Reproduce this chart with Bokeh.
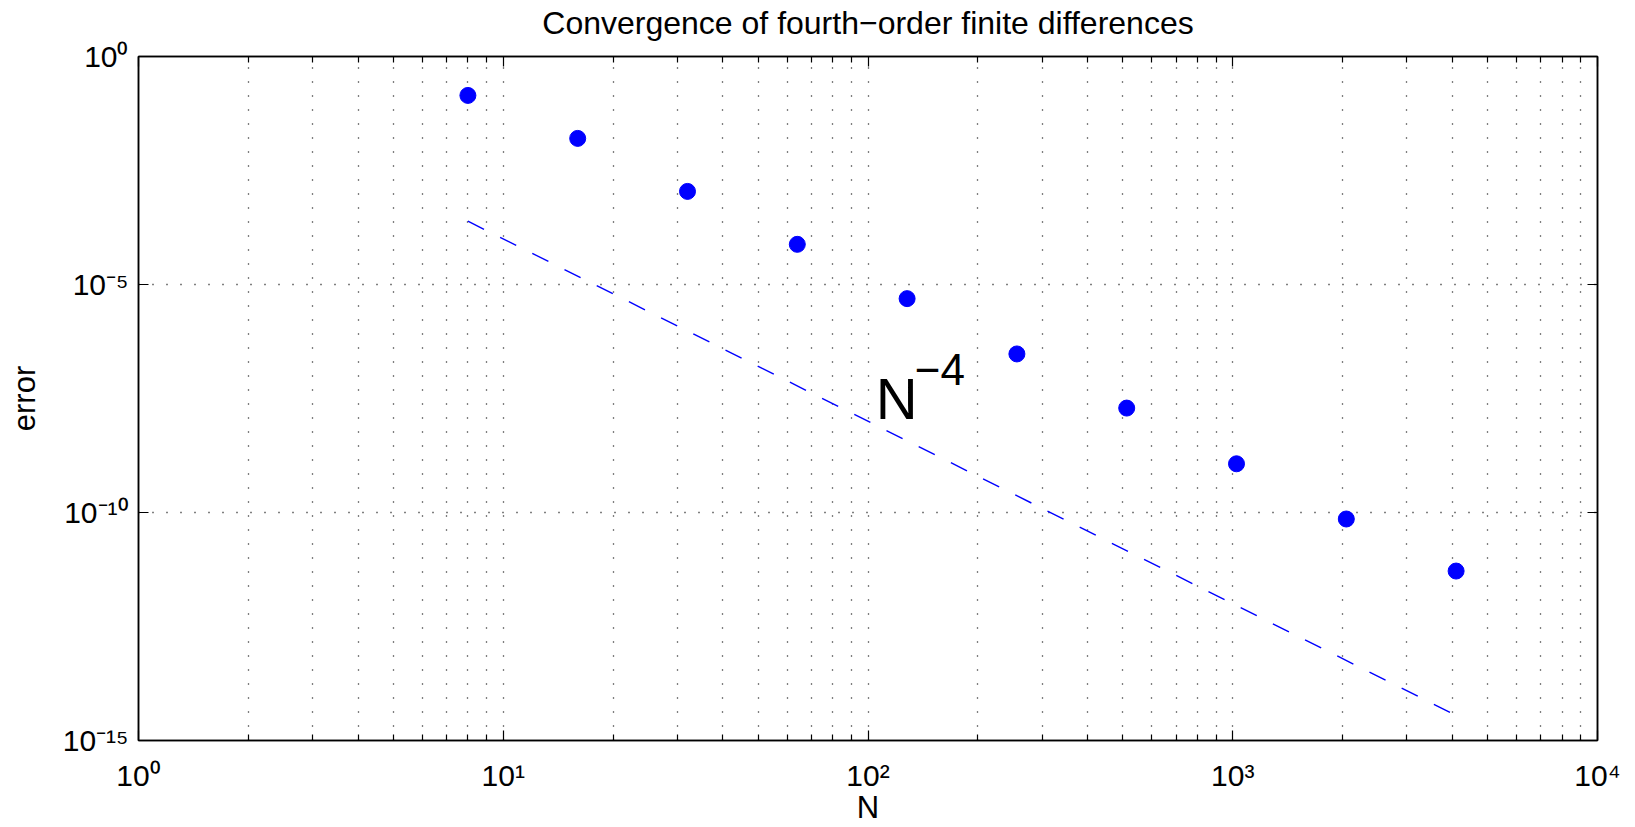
from bokeh.plotting import figure
from bokeh.models import FixedTicker, LogAxis, Label, CustomJSTickFormatter
from bokeh.embed import file_html
from bokeh.resources import INLINE

# ---- data ----
N = [8, 16, 32, 64, 128, 256, 512, 1024, 2048, 4096]
err = [1.4e-1, 1.6e-2, 1.1e-3, 7.6e-5, 4.9e-6, 3.0e-7, 1.95e-8, 1.17e-9, 7.2e-11, 5.2e-12]
ref_N = [8, 4096]
ref_err = [n ** -4.0 for n in ref_N]  # N^-4 reference line
x_major = [1, 10, 100, 1000, 10000]
x_labels = ["10\u2070", "10\u00b9", "10\u00b2", "10\u00b3", "10\u2074"]
x_minor = [m * d for d in [1, 10, 100, 1000] for m in range(2, 10)]
y_major = [1e-15, 1e-10, 1e-5, 1]
y_labels = ["10\u207b\u00b9\u2075", "10\u207b\u00b9\u2070", "10\u207b\u2075", "10\u2070"]
title_text = "Convergence of fourth\u2212order finite differences"

FONT = "Liberation Sans"
BLUE = "#0000ff"

p = figure(width=1635, height=827, x_axis_type="log", y_axis_type="log",
           x_range=(1, 1e4), y_range=(1e-15, 1),
           output_backend="svg", toolbar_location=None,
           min_border_left=138, min_border_right=38,
           min_border_top=56, min_border_bottom=87)
p.background_fill_color = "white"
p.border_fill_color = "white"
p.outline_line_color = "black"
p.outline_line_width = 1.5

label_code = """
let best = 0, bd = Infinity;
for (let i = 0; i < tv.length; i++) {
  const d = Math.abs(Math.log10(tv[i]) - Math.log10(tick));
  if (d < bd) { bd = d; best = i; }
}
return tl[best];
"""
x_fmt = CustomJSTickFormatter(args=dict(tv=x_major, tl=x_labels), code=label_code)
y_fmt = CustomJSTickFormatter(args=dict(tv=y_major, tl=y_labels), code=label_code)
blank = CustomJSTickFormatter(code="return ''")

def style_axis(ax):
    ax.major_tick_in = 10
    ax.major_tick_out = 0
    ax.minor_tick_in = 6
    ax.minor_tick_out = 0
    ax.axis_line_color = "black"
    ax.axis_line_width = 1.5
    ax.major_tick_line_color = "black"
    ax.minor_tick_line_color = "black"
    ax.major_tick_line_width = 1.2
    ax.minor_tick_line_width = 1.2
    ax.major_label_text_font = FONT
    ax.major_label_text_font_size = "30px"
    ax.major_label_text_color = "black"
    ax.axis_label_text_font = FONT
    ax.axis_label_text_font_size = "31px"
    ax.axis_label_text_font_style = "normal"
    ax.axis_label_text_color = "black"

p.xaxis.ticker = FixedTicker(ticks=x_major, minor_ticks=x_minor)
p.yaxis.ticker = FixedTicker(ticks=y_major, minor_ticks=[])
style_axis(p.xaxis[0])
style_axis(p.yaxis[0])
p.xaxis[0].formatter = x_fmt
p.yaxis[0].formatter = y_fmt
p.yaxis[0].minor_tick_in = 0
p.xaxis[0].major_label_standoff = 18
p.yaxis[0].major_label_standoff = 10
p.xaxis[0].axis_label = "N"
p.xaxis[0].axis_label_standoff = -5
p.yaxis[0].axis_label = "error"
p.yaxis[0].axis_label_standoff = 18

top = LogAxis(ticker=FixedTicker(ticks=x_major, minor_ticks=x_minor))
right = LogAxis(ticker=FixedTicker(ticks=y_major, minor_ticks=[]))
for ax in (top, right):
    style_axis(ax)
    ax.formatter = blank
    ax.major_label_text_font_size = "1px"
    ax.major_label_standoff = 0
right.minor_tick_in = 0
# title drawn as the top axis label
top.axis_label = title_text
top.axis_label_text_font_size = "32px"
top.axis_label_standoff = 16
p.add_layout(top, "above")
p.add_layout(right, "right")

# grid: dotted
for g in (p.xgrid[0], p.ygrid[0]):
    g.grid_line_color = "black"
    g.grid_line_dash = "1 13"
    g.grid_line_width = 1.3
    g.grid_line_alpha = 1.0
p.xgrid[0].minor_grid_line_color = "black"
p.xgrid[0].minor_grid_line_dash = "1 13"
p.xgrid[0].minor_grid_line_width = 1.3
p.xgrid[0].minor_grid_line_alpha = 1.0

# data
p.line(ref_N, ref_err, line_color=BLUE, line_dash="18 18", line_width=1.4)
p.scatter(N, err, size=16, fill_color=BLUE, line_color=BLUE)

# N^-4 annotation
p.add_layout(Label(x=105, y=1.15e-8, text="N", y_offset=20, text_align="left",
                   text_baseline="alphabetic", text_font=FONT,
                   text_font_size="58px", text_color="black"))
p.add_layout(Label(x=105, y=1.15e-8, text="\u22124", x_offset=39, y_offset=49,
                   text_align="left", text_baseline="alphabetic", text_font=FONT,
                   text_font_size="44px", text_color="black"))

open("out.html", "w").write(file_html(p, INLINE))
